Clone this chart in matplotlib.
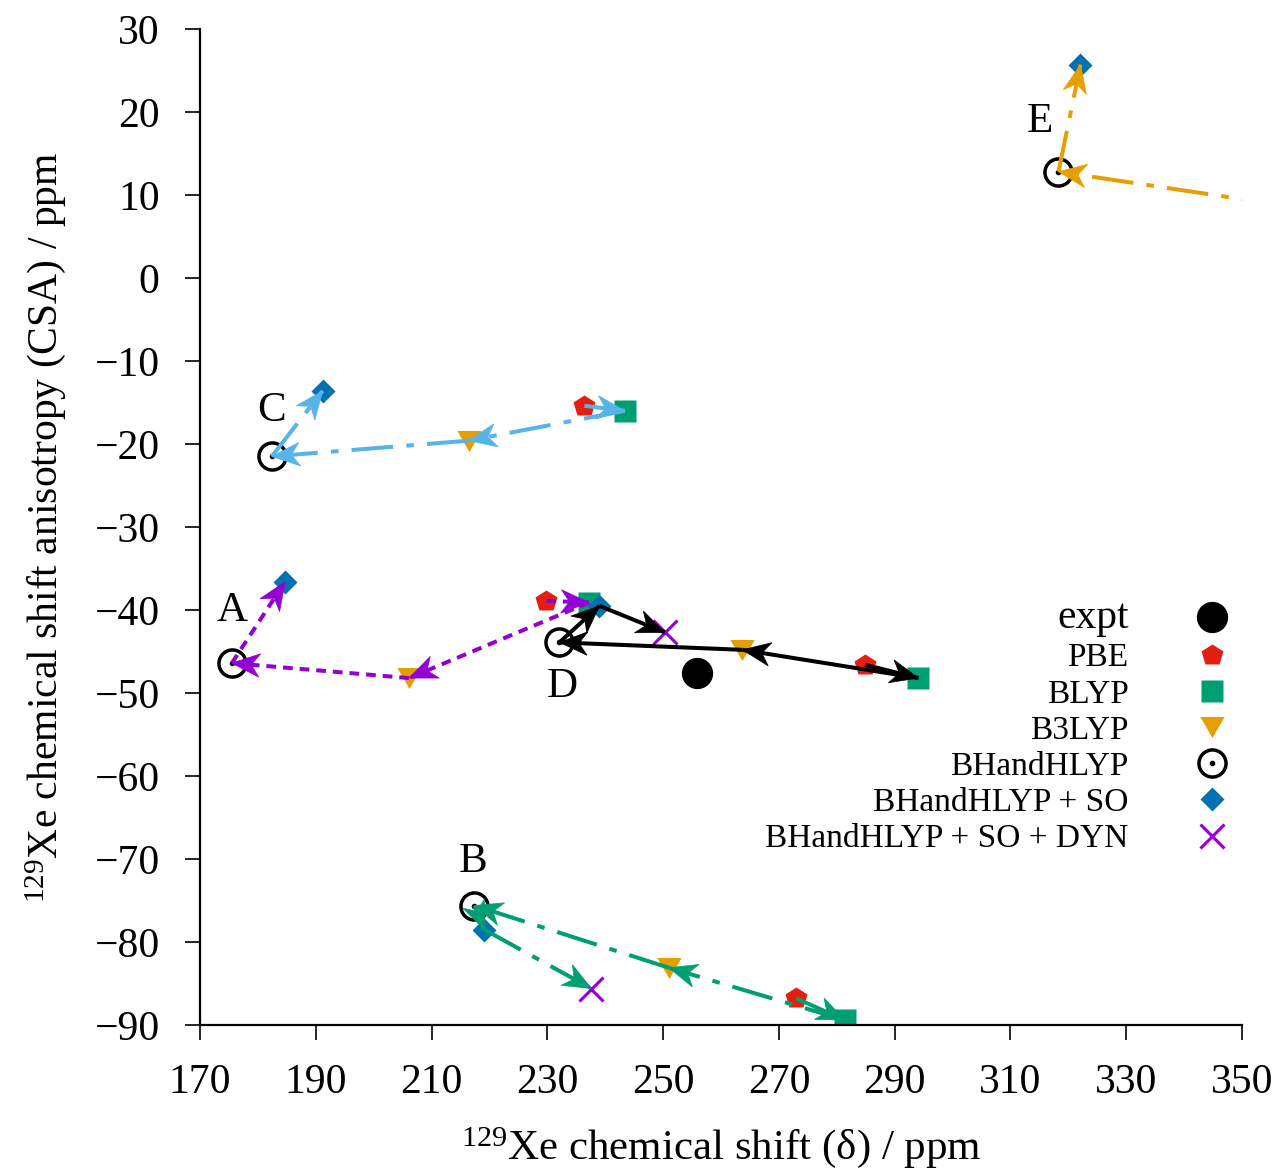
import numpy as np
import matplotlib
matplotlib.use('Agg')
import matplotlib.pyplot as plt
from matplotlib import transforms
from matplotlib.patches import Polygon
from matplotlib.legend_handler import HandlerTuple

plt.rcParams['font.family'] = ['Liberation Serif', 'DejaVu Serif']
plt.rcParams['mathtext.fontset'] = 'custom'
plt.rcParams['mathtext.rm'] = 'Liberation Serif'
plt.rcParams['mathtext.it'] = 'Liberation Serif:italic'
plt.rcParams['axes.unicode_minus'] = True
plt.rcParams['lines.scale_dashes'] = False

# ---------------- data ----------------
methods = ['PBE', 'BLYP', 'B3LYP', 'BHandHLYP', 'BHandHLYP + SO', 'BHandHLYP + SO + DYN']
systems = ['A', 'B', 'C', 'D', 'E']

# chemical shift / CSA (ppm) per method, None = not shown
A_shift = [229.8, 237.2, 206.1, 175.5, 184.7, None]
A_csa = [-38.9, -39.1, -48.2, -46.4, -36.6, None]
B_shift = [273.0, 281.4, 251.0, 217.4, 219.1, 237.6]
B_csa = [-86.8, -89.4, -83.1, -75.6, -78.5, -85.6]
C_shift = [236.4, 243.4, 216.4, 182.4, 191.2, None]
C_csa = [-15.4, -16.0, -19.6, -21.5, -13.6, None]
D_shift = [284.9, 294.1, 263.7, 232.1, 239.0, 250.3]
D_csa = [-46.6, -48.2, -44.8, -43.9, -39.5, -42.7]
E_shift = [None, None, 372.0, 318.3, 322.1, None]
E_csa = [None, None, 7.2, 12.8, 25.7, None]

expt_shift = [255.9]
expt_csa = [-47.6]

label_x = [175.5, 217.2, 182.4, 232.6, 315.0]
label_y = [-40.1, -70.3, -16.0, -49.3, 18.8]

x_ticks = [170, 190, 210, 230, 250, 270, 290, 310, 330, 350]
y_ticks = [30, 20, 10, 0, -10, -20, -30, -40, -50, -60, -70, -80, -90]

# ---------------- styles ----------------
c_pbe = '#E51E10'
c_blyp = '#009E73'
c_b3 = '#E69F00'
c_so = '#0072B2'
c_dyn = '#9400D3'

dashdot = (0, (30, 9.5, 5.5, 9.5))
dotted = (0, (7, 5))
sys_style = {
    'A': (c_dyn, dotted),
    'B': (c_blyp, dashdot),
    'C': ('#56B4E9', dashdot),
    'D': ('black', '-'),
    'E': (c_b3, dashdot),
}

tri_verts = [(-1, 0.866), (1, 0.866), (0, -0.866), (-1, 0.866)]
marker_style = [
    dict(marker='p', ms=16.5, color=c_pbe, mec='none'),
    dict(marker='s', ms=16.5, color=c_blyp, mec='none'),
    dict(marker=tri_verts, ms=17.5, color=c_b3, mec='none'),
    dict(marker='o', ms=19.5, mfc='none', mec='black', mew=2.5),
    dict(marker='D', ms=12.5, color=c_so, mec='none'),
    dict(marker='x', ms=17.5, color=c_dyn, mew=2.2),
]

fig = plt.figure(figsize=(12.82, 11.72), dpi=100)
ax = fig.add_axes([0.156, 0.1254, 0.8128, 0.8499])
ax.set_xlim(170, 350)
ax.set_ylim(-90, 30)

all_shift = {'A': A_shift, 'B': B_shift, 'C': C_shift, 'D': D_shift, 'E': E_shift}
all_csa = {'A': A_csa, 'B': B_csa, 'C': C_csa, 'D': D_csa, 'E': E_csa}

# markers
handles = []
for m, st in enumerate(marker_style):
    xs = [all_shift[s][m] for s in systems if all_shift[s][m] is not None]
    ys = [all_csa[s][m] for s in systems if all_csa[s][m] is not None]
    h, = ax.plot(xs, ys, ls='none', zorder=2, **st)
    if m == 3:
        d, = ax.plot(xs, ys, ls='none', marker='o', ms=3, color='black', zorder=2)
        handles.append((h, d))
    else:
        handles.append(h)

he, = ax.plot(expt_shift, expt_csa, ls='none', marker='o', ms=21.5, color='black', zorder=2)


def draw_arrow(x0, y0, x1, y1, color, ls):
    ax.plot([x0, x1], [y0, y1], color=color, lw=2.9, ls=ls,
            dash_capstyle='butt', solid_capstyle='butt', zorder=3)
    p0 = ax.transData.transform((x0, y0))
    p1 = ax.transData.transform((x1, y1))
    ang = np.arctan2(p1[1] - p0[1], p1[0] - p0[0])
    L, W = 0.28, 0.235
    base = np.array([(0, 0), (-L, W / 2), (-0.7 * L, 0), (-L, -W / 2)])
    rot = np.array([[np.cos(ang), -np.sin(ang)], [np.sin(ang), np.cos(ang)]])
    verts = base @ rot.T
    trans = fig.dpi_scale_trans + transforms.ScaledTranslation(x1, y1, ax.transData)
    ax.add_patch(Polygon(verts, closed=True, transform=trans, fc=color, ec=color,
                         lw=0.5, zorder=4))


for s in systems:
    color, ls = sys_style[s]
    pts = [(x, y) for x, y in zip(all_shift[s], all_csa[s]) if x is not None]
    for (x0, y0), (x1, y1) in zip(pts[:-1], pts[1:]):
        draw_arrow(x0, y0, x1, y1, color, ls)

for s, lx, ly in zip(systems, label_x, label_y):
    ax.text(lx, ly, s, fontsize=31, ha='center', va='center', zorder=5)

# axes styling
for side in ['top', 'right']:
    ax.spines[side].set_visible(False)
for side in ['left', 'bottom']:
    ax.spines[side].set_linewidth(1.6)
ax.set_xticks(x_ticks)
ax.set_yticks(y_ticks)
ax.set_yticklabels([str(v).replace('-', '\u2212') for v in y_ticks])
ax.tick_params(direction='out', length=11, width=1.2, labelsize=30, pad=17)
ax.tick_params(axis='y', pad=18)

ax.set_xlabel(r'$^{129}$Xe chemical shift (δ) / ppm', fontsize=31)
ax.set_ylabel(r'$^{129}$Xe chemical shift anisotropy (CSA) / ppm', fontsize=30)
ax.xaxis.set_label_coords(0.5, -0.1)
ax.yaxis.set_label_coords(-0.127, 0.5)

leg = ax.legend([he] + handles, ['expt'] + methods, loc='upper right',
                bbox_to_anchor=(1.003, 0.428), frameon=False, markerfirst=False,
                fontsize=24, handletextpad=1.5, handlelength=2.0,
                labelspacing=0.17, borderpad=0, borderaxespad=0,
                handler_map={tuple: HandlerTuple(ndivide=1, pad=0)})
leg.get_texts()[0].set_fontsize(30)

fig.savefig('out.png', dpi=100)
